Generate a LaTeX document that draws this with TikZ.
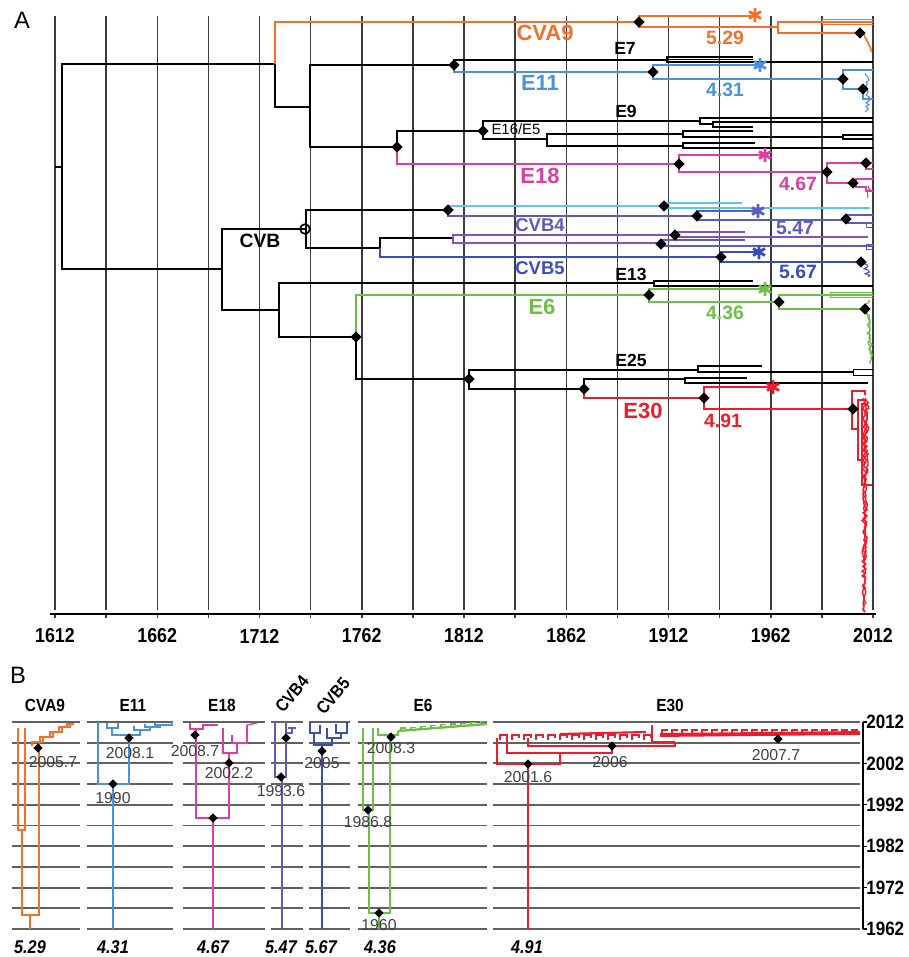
\documentclass[tikz,border=0pt]{standalone}
\usepackage{fontspec}
\setmainfont{Liberation Sans}
\newfontfamily\narrowsans[FakeStretch=0.88]{Liberation Sans}
\usetikzlibrary{shapes.geometric}

\definecolor{cvaorange}{HTML}{F36F2C}
\definecolor{eleblue}{HTML}{4A93D8}
\definecolor{eepink}{HTML}{E03E9E}
\definecolor{cvbsky}{HTML}{5CC6F2}
\definecolor{cvbpurple}{HTML}{5B5BC2}
\definecolor{cvbviolet}{HTML}{8451C4}
\definecolor{cvbblue}{HTML}{3A4DBE}
\definecolor{esixgreen}{HTML}{6DBF45}
\definecolor{ethirred}{HTML}{EC1C2A}
\definecolor{gridgray}{HTML}{3C3C3C}

\begin{document}
\begin{tikzpicture}[x=0.02cm, y=-0.02cm,
    gridline/.style={draw=gridgray, line width=0.85pt},
    bgridline/.style={draw=black!62, line width=1.1pt},
    br/.style={line width=1.1pt},
    cbr/.style={line width=0.85pt},
    tbr/.style={line width=0.5pt},
    bbr/.style={line width=0.75pt},
    dmd/.style={diamond, fill=black, inner sep=0pt, minimum size=6.5pt},
    sdmd/.style={diamond, fill=black, inner sep=0pt, minimum size=5.5pt},
    clade/.style={font=\bfseries\fontsize{12.5}{12.5}\selectfont, inner sep=0pt},
    subclade/.style={font=\bfseries\fontsize{10}{10}\selectfont, inner sep=0pt},
    rate/.style={font=\bfseries\fontsize{11}{11}\selectfont, inner sep=0pt},
    axisyr/.style={font=\narrowsans\bfseries\fontsize{11.5}{11.5}\selectfont, inner sep=0pt},
    head/.style={font=\narrowsans\bfseries\fontsize{10}{10}\selectfont, inner sep=0pt},
    brate/.style={font=\narrowsans\bfseries\itshape\fontsize{10.5}{10.5}\selectfont, inner sep=0pt},
    datelab/.style={font=\fontsize{9}{9}\selectfont, text=black!75, inner sep=0pt},
    pics/astk/.style={code={\draw[line width=1.6pt] (0,-7) -- (0,7) (-6,-3.5) -- (6,3.5) (-6,3.5) -- (6,-3.5);}}
]
\useasboundingbox (0,0) rectangle (909,957);
\pgfmathsetseed{11}

% =================================================================
% PANEL A : TIME GRID AND AXIS
% =================================================================
\node[font=\fontsize{13.5}{13.5}\selectfont, inner sep=0pt] (panA) at (22,20) {A};
\foreach \i in {0,...,16} {
    \draw[gridline] ({55+\i*51.125},16) -- ({55+\i*51.125},610);
    \draw[gridline] ({55+\i*51.125},614) -- ++(0,4);
}
\draw[line width=1.2pt] (50,614) -- (876,614);
\foreach \yr [count=\k from 0] in {1612,1662,...,2012}
    \node[axisyr] (yrA\k) at ({55+\k*102.25},636) {\yr};

% =================================================================
% PANEL A : BACKBONE
% =================================================================
\draw[br] (55,167) -- (62,167);
\draw[br] (275,64) -| (62,269) -- (222,269);
\draw[br] (275,64) |- (310,107);
\draw[br] (454,65) -| (310,147) -- (397,147);

% CVA9
\draw[cbr, cvaorange] (639,22) -| (275,64);
\draw[cbr, cvaorange] (753,16) -| (639,27) -- (778,27);
\draw[cbr, cvaorange] (873,22) -| (778,33) -- (860,33);
\draw[tbr, cvaorange] (873,19.5) -| (822,24) -- (873,24);
\draw[cvaorange, line width=0.6pt] plot[domain=33:52, samples=14] ({862+9*(\x-33)/19+2*rnd},\x);
\draw[cvaorange, line width=0.6pt] plot[domain=36:50, samples=10] ({864+7*(\x-36)/14+2*rnd},\x);

% E7 / E11
\draw[br] (454,65) |- (667,60);
\draw[br] (753,57) -| (667,62) -- (873,62);
\draw[tbr] (667,59.5) -- (753,59.5);
\draw[cbr, eleblue] (454,65) |- (653,72);
\draw[cbr, eleblue] (760,65) -| (653,79) -- (843,79);
\draw[cbr, eleblue] (873,70) -| (843,89) -- (863,89);
\draw[eleblue, line width=0.6pt] plot[domain=73:112, samples=22] ({865+5*rnd},\x);
\draw[eleblue, line width=0.6pt] (863,89) |- (873,99);

% E9 / E16/E5
\draw[br] (483,131) -| (397,147);
\draw[br] (700,121) -| (483,139) -- (547,139);
\draw[br] (873,118) -| (700,124) -- (713,124);
\draw[br] (873,122) -| (713,127) -- (753,127);
\draw[br] (683,134) -| (547,146) -- (683,146);
\draw[br] (753,131) -| (683,137) -- (843,137);
\draw[br] (873,135) -| (843,139) -- (873,139);
\draw[br] (755,143) -| (683,148) -- (873,148);

% E18
\draw[cbr, eepink] (397,147) |- (679,164);
\draw[cbr, eepink] (765,155) -| (679,172) -- (827,172);
\draw[cbr, eepink] (873,163) -| (827,183) -- (853,183);
\draw[cbr, eepink] (866,163) |- (873,169);
\draw[cbr, eepink] (873,179) -| (856,187) -- (866,187) |- (873,191);
\draw[eepink, line width=0.6pt] plot[domain=186:198, samples=8] ({866+5*rnd},\x);

% CVB
\draw[br] (306,229) -| (222,310) -- (279,310);
\draw[br] (448,210) -| (306,248) -- (380,248);
\node[circle, draw, line width=1pt, minimum size=5.5pt, inner sep=0pt] (cvbroot) at (305,229) {};
\draw[cbr, cvbsky] (664,206) -| (448,210);
\draw[cbr, cvbpurple] (448,210) |- (697,216);
\draw[cbr, cvbsky] (742,203) -| (664,208) -- (870,208);
\draw[cbr, cvbpurple] (757,211) -| (697,220) -- (846,220);
\draw[cbr, cvbpurple] (873,215) -| (846,223) -- (873,223);
\draw[tbr, cvbpurple] (866,223) |- (873,227);
\draw[br] (453,238) -| (380,248);
\draw[cbr, cvbblue] (380,248) |- (721,257);
\draw[cbr, cvbviolet] (675,235) -| (453,243) -- (661,243);
\draw[cbr, cvbviolet] (745,232) -| (675,237) -- (868,237);
\draw[cbr, cvbpurple] (745,240) -| (661,246) -- (873,246);
\draw[tbr, cvbpurple] (873,244) -| (866,249) -- (873,249);
\draw[cbr, cvbblue] (759,252) -| (721,262) -- (861,262);
\draw[cvbblue, line width=0.6pt] plot[domain=262:277, samples=10] ({864+6*rnd},\x);

% E13 / E6
\draw[br] (654,283) -| (279,337) -- (356,337);
\draw[br] (753,281) -| (654,286) -- (873,286);
\draw[cbr, esixgreen] (649,295) -| (356,337);
\draw[br] (356,337) |- (469,379);
\draw[cbr, esixgreen] (764,289) -| (649,302) -- (779,302);
\draw[cbr, esixgreen] (873,295) -| (779,309) -- (865,309);
\draw[tbr, esixgreen] (873,292.5) -| (830,297) -- (873,297);
\draw[esixgreen, line width=0.7pt] plot[domain=300:364, samples=30] ({865+4*(\x-300)/64+4*rnd},\x);
\draw[esixgreen, line width=0.7pt] plot[domain=305:355, samples=20] ({866+4*(\x-305)/50+3*rnd},\x);

% E25 / E30
\draw[br] (698,370) -| (469,389) -- (584,389);
\draw[br] (762,366) -| (698,372) -- (853,372);
\draw[tbr] (873,369) -| (853,375) -- (873,375);
\draw[br] (685,379) -| (584,389);
\draw[cbr, ethirred] (584,389) |- (704,398);
\draw[br] (747,378) -| (685,383) -- (868,383);
\draw[cbr, ethirred] (773,387) -| (704,409) -- (853,409);
\draw[cbr, ethirred] (865,395) |- (852,391) -- (852,429) -- (858,429);
\draw[cbr, ethirred] (866,400) -| (858,460) -- (862,460);
\draw[cbr, ethirred] (866,404) -| (862,485) -- (872,485);
\draw[ethirred, line width=0.8pt] plot[domain=398:612, samples=90] ({862+(7-4*(\x-398)/214)*rnd},\x);
\draw[ethirred, line width=0.8pt] plot[domain=398:612, samples=70] ({863+(6-3*(\x-398)/214)*rnd},\x);
\draw[ethirred, line width=0.8pt] plot[domain=400:560, samples=60] ({864+(5-2*(\x-400)/160)*rnd},\x);

% asterisks
\pic[color=cvaorange] at (755,15) {astk};
\pic[color=eleblue] at (760,65) {astk};
\pic[color=eepink] at (765,155) {astk};
\pic[color=cvbpurple] at (758,211) {astk};
\pic[color=cvbblue] at (759,252) {astk};
\pic[color=esixgreen] at (765,289) {astk};
\pic[color=ethirred] at (773,387) {astk};

% diamonds
\foreach \p [count=\n] in {(639,22),(860,33),(454,65),(653,72),(843,79),(863,89),
    (397,147),(483,131),(679,164),(827,172),(866,163),(853,183),(448,210),
    (664,206),(697,216),(846,219),(675,235),(661,244),(721,257),(861,262),
    (649,295),(779,302),(865,309),(356,337),(469,379),(584,389),(704,398),(853,409)}
    \node[dmd] (dA\n) at \p {};

% labels
\node[clade, text=cvaorange] (tCVA9) at (545,33) {CVA9};
\node[rate, text=cvaorange] (rCVA9) at (725,38) {5.29};
\node[subclade] (tE7) at (625,48) {E7};
\node[clade, text=eleblue] (tE11) at (540,83) {E11};
\node[rate, text=eleblue] (rE11) at (725,90) {4.31};
\node[subclade] (tE9) at (626,111) {E9};
\node[font=\fontsize{8.5}{8.5}\selectfont, inner sep=0pt] (tE16) at (516,129) {E16/E5};
\node[clade, text=eepink] (tE18) at (540,176) {E18};
\node[rate, text=eepink] (rE18) at (798,184) {4.67};
\node[subclade, font=\bfseries\fontsize{11}{11}\selectfont] (tCVB) at (260,241) {CVB};
\node[subclade, font=\bfseries\fontsize{10.5}{10.5}\selectfont, text=cvbpurple] (tCVB4) at (540,225) {CVB4};
\node[rate, text=cvbpurple] (rCVB4) at (795,228) {5.47};
\node[subclade, font=\bfseries\fontsize{10.5}{10.5}\selectfont, text=cvbblue] (tCVB5) at (540,268) {CVB5};
\node[rate, text=cvbblue] (rCVB5) at (798,272) {5.67};
\node[subclade] (tE13) at (631,274) {E13};
\node[clade, text=esixgreen] (tE6) at (542,307) {E6};
\node[rate, text=esixgreen] (rE6) at (725,313) {4.36};
\node[subclade] (tE25) at (631,360) {E25};
\node[clade, text=ethirred] (tE30) at (643,411) {E30};
\node[rate, text=ethirred] (rE30) at (723,421) {4.91};

% =================================================================
% PANEL B : GRID AND AXIS
% =================================================================
\node[font=\fontsize{13.5}{13.5}\selectfont, inner sep=0pt] (panB) at (18,675) {B};
\foreach \k in {0,...,10}
    \foreach \a/\b in {12/80,87/173,183/265,271/303,309/350,358/487,493/860}
        \draw[bgridline] (\a,{722+\k*20.7}) -- (\b,{722+\k*20.7});
\draw[line width=0.7pt] (863,722) -- (863,929);
\foreach \yr [count=\k from 0] in {2012,2002,...,1962} {
    \draw[line width=0.7pt] (863,{722+\k*41.4}) -- ++(4,0);
    \node[head, font=\narrowsans\bfseries\fontsize{11}{11}\selectfont, anchor=west] (yrB\k) at (866,{722+\k*41.4}) {\yr};
}

% CVA9
\begin{scope}[bbr, cvaorange]
\draw (30,929) -- (30,915);
\draw (22,830) |- (39,915) -- (39,742);
\draw (18,728) |- (25,830) -- (25,728);
\draw (32,746) |- (43,742) -- (43,737);
\draw (40,741) |- (53,737) -- (53,732);
\draw (50,736) |- (62,732) -- (62,727);
\draw (59,731) |- (70,727) -- (70,724);
\draw (67,726) |- (74,724);
\end{scope}

% E11
\begin{scope}[bbr, eleblue]
\draw (113,929) -- (113,784);
\draw (98,722) |- (129,784) -- (129,735);
\draw (112,728) |- (140,735) -- (140,730);
\draw (107,723) |- (118,728) -- (118,723);
\draw (134,726) |- (150,730) -- (150,727);
\draw (145,724) |- (160,727) -- (160,725);
\draw (155,723) |- (172,725) -- (172,722);
\end{scope}

% E18
\begin{scope}[bbr, eepink]
\draw (213,929) -- (213,818);
\draw (196,729) |- (229,818) -- (229,753);
\draw (190,723) |- (203,729) |- (218,725);
\draw (223,728) |- (237,753) -- (237,743);
\draw (232,735) |- (247,743) -- (247,725);
\draw (247,725) -- (257,723);
\end{scope}

% CVB4
\begin{scope}[bbr, cvbpurple]
\draw (282,929) -- (282,777);
\draw (275,722) |- (286,777) -- (286,722);
\draw (286,733) -| (292,728);
\draw (288,728) -- (296,728);
\end{scope}

% CVB5
\begin{scope}[bbr, cvbblue]
\draw (322,929) -- (322,745);
\draw (314,733) |- (332,745) -- (332,738);
\draw (310,723) |- (320,733) -- (320,725);
\draw (327,728) |- (341,738) -- (341,733);
\draw (336,724) |- (347,733) -- (347,722);
\end{scope}

% E6
\begin{scope}[bbr, esixgreen]
\draw (379,929) -- (379,913);
\draw (369,810) |- (390,913) -- (390,733);
\draw (363,728) |- (373,810) -- (373,728);
\draw (378,728) |- (398,735) -- (398,731);
\draw[line width=1.3pt] (398,731) -- (487,724);
\foreach \xx in {398,408,...,478} {
    \pgfmathsetmacro\yy{731-(\xx-398)*0.08}
    \draw (\xx+3,\yy) -- ++(0,-3) -- ++(5,0);
}
\end{scope}

% E30
\begin{scope}[bbr, ethirred]
\draw (528,929) -- (528,764);
\draw (497,738) |- (560,764) -- (560,753);
\draw (507,738) |- (612,753) -- (612,746);
\draw (528,738) |- (675,746) -- (675,742);
\draw (652,725) |- (675,742);
\draw[line width=1.2pt] (560,734) -- (646,732);
\foreach \xx in {500,512,...,644} {
    \draw (\xx,740) -- (\xx,735) -- (\xx+7,735) -- (\xx+7,738);
}
\draw[line width=2.2pt] (660,735) -- (860,733);
\foreach \xx in {662,672,...,852} {
    \draw (\xx,735) |- (\xx+6,730);
}
\end{scope}

% diamonds
\foreach \p [count=\n] in {(38,748),(129,738),(113,784),(195,735),(229,763),(213,818),
    (286,738),(281,777),(322,751),(391,737),(368,810),(379,913),(528,764),(612,746),(778,739)}
    \node[sdmd] (dB\n) at \p {};

% date labels
\node[datelab] (l1) at (53,762) {2005.7};
\node[datelab] (l2) at (130,753) {2008.1};
\node[datelab] (l3) at (113,798) {1990};
\node[datelab] (l4) at (195,751) {2008.7};
\node[datelab] (l5) at (229,773) {2002.2};
\node[datelab] (l6) at (281,791) {1993.6};
\node[datelab] (l7) at (322,763) {2005};
\node[datelab] (l8) at (368,822) {1986.8};
\node[datelab] (l9) at (379,925) {1960};
\node[datelab] (l10) at (391,748) {2008.3};
\node[datelab] (l11) at (528,777) {2001.6};
\node[datelab] (l12) at (610,762) {2006};
\node[datelab] (l13) at (776,755) {2007.7};

% headers
\node[head] (hCVA9) at (45,705) {CVA9};
\node[head] (hE11) at (133,705) {E11};
\node[head] (hE18) at (222,705) {E18};
\node[head, rotate=50] (hCVB4) at (292,694) {CVB4};
\node[head, rotate=50] (hCVB5) at (333,696) {CVB5};
\node[head] (hE6) at (423,705) {E6};
\node[head] (hE30) at (670,705) {E30};

% rates
\foreach \xx/\rt [count=\n] in {30/5.29,113/4.31,213/4.67,281/5.47,321/5.67,380/4.36,527/4.91}
    \node[brate] (rB\n) at (\xx,947) {\rt};

\end{tikzpicture}
\end{document}
